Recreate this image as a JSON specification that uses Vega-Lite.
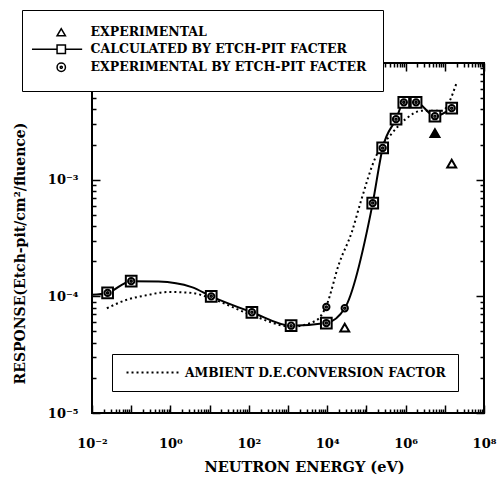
{
  "$schema": "https://vega.github.io/schema/vega-lite/v6.json",
  "width": 392,
  "height": 350,
  "autosize": {"type": "none"},
  "padding": {"left": 92, "top": 63, "right": 16, "bottom": 64},
  "background": "white",
  "config": {
    "font": "DejaVu Serif",
    "view": {"stroke": "black", "strokeWidth": 2},
    "axis": {"grid": false, "domain": false, "labelFont": "DejaVu Serif", "labelFontWeight": "bold", "labelColor": "black", "labelFontSize": 13, "titleFont": "DejaVu Serif", "titleFontWeight": "bold", "titleColor": "black", "tickColor": "black", "tickWidth": 1.5, "labelOverlap": false, "labelFlush": false}
  },
  "datasets": {
    "calc": [
      {"E": 0.01, "R": 0.000103},
      {"E": 0.025, "R": 0.000107},
      {"E": 0.1, "R": 0.000135},
      {"E": 0.5, "R": 0.000134},
      {"E": 3.5, "R": 0.00012},
      {"E": 11, "R": 0.0001},
      {"E": 120, "R": 0.000073},
      {"E": 1200, "R": 0.000056},
      {"E": 9500, "R": 0.000059},
      {"E": 28000, "R": 0.000079},
      {"E": 145000, "R": 0.00063},
      {"E": 260000, "R": 0.00187},
      {"E": 570000, "R": 0.0033},
      {"E": 900000, "R": 0.0046},
      {"E": 1850000, "R": 0.0046},
      {"E": 5600000, "R": 0.0035},
      {"E": 15000000, "R": 0.0041}
    ],
    "ambient": [
      {"E": 0.024, "R": 0.000079, "series": "AMBIENT D.E.CONVERSION FACTOR"},
      {"E": 0.074, "R": 0.000093, "series": "AMBIENT D.E.CONVERSION FACTOR"},
      {"E": 0.24, "R": 0.000102, "series": "AMBIENT D.E.CONVERSION FACTOR"},
      {"E": 0.9, "R": 0.000109, "series": "AMBIENT D.E.CONVERSION FACTOR"},
      {"E": 3.5, "R": 0.000107, "series": "AMBIENT D.E.CONVERSION FACTOR"},
      {"E": 11, "R": 0.000096, "series": "AMBIENT D.E.CONVERSION FACTOR"},
      {"E": 120, "R": 0.000069, "series": "AMBIENT D.E.CONVERSION FACTOR"},
      {"E": 1260, "R": 0.000055, "series": "AMBIENT D.E.CONVERSION FACTOR"},
      {"E": 5200, "R": 0.000062, "series": "AMBIENT D.E.CONVERSION FACTOR"},
      {"E": 9500, "R": 0.000083, "series": "AMBIENT D.E.CONVERSION FACTOR"},
      {"E": 20000, "R": 0.00019, "series": "AMBIENT D.E.CONVERSION FACTOR"},
      {"E": 43000, "R": 0.00036, "series": "AMBIENT D.E.CONVERSION FACTOR"},
      {"E": 73000, "R": 0.00066, "series": "AMBIENT D.E.CONVERSION FACTOR"},
      {"E": 170000, "R": 0.00155, "series": "AMBIENT D.E.CONVERSION FACTOR"},
      {"E": 450000, "R": 0.0025, "series": "AMBIENT D.E.CONVERSION FACTOR"},
      {"E": 1000000, "R": 0.0033, "series": "AMBIENT D.E.CONVERSION FACTOR"},
      {"E": 2600000, "R": 0.0039, "series": "AMBIENT D.E.CONVERSION FACTOR"},
      {"E": 8500000, "R": 0.0039, "series": "AMBIENT D.E.CONVERSION FACTOR"},
      {"E": 19500000, "R": 0.0066, "series": "AMBIENT D.E.CONVERSION FACTOR"}
    ],
    "markers": [
      {"E": 0.025, "R": 0.000107, "series": "CALCULATED BY ETCH-PIT FACTER"},
      {"E": 0.1, "R": 0.000135, "series": "CALCULATED BY ETCH-PIT FACTER"},
      {"E": 11, "R": 0.0001, "series": "CALCULATED BY ETCH-PIT FACTER"},
      {"E": 120, "R": 0.000073, "series": "CALCULATED BY ETCH-PIT FACTER"},
      {"E": 1200, "R": 0.000056, "series": "CALCULATED BY ETCH-PIT FACTER"},
      {"E": 9500, "R": 0.000059, "series": "CALCULATED BY ETCH-PIT FACTER"},
      {"E": 145000, "R": 0.00063, "series": "CALCULATED BY ETCH-PIT FACTER"},
      {"E": 260000, "R": 0.00187, "series": "CALCULATED BY ETCH-PIT FACTER"},
      {"E": 570000, "R": 0.0033, "series": "CALCULATED BY ETCH-PIT FACTER"},
      {"E": 900000, "R": 0.0046, "series": "CALCULATED BY ETCH-PIT FACTER"},
      {"E": 1850000, "R": 0.0046, "series": "CALCULATED BY ETCH-PIT FACTER"},
      {"E": 5600000, "R": 0.0035, "series": "CALCULATED BY ETCH-PIT FACTER"},
      {"E": 15000000, "R": 0.0041, "series": "CALCULATED BY ETCH-PIT FACTER"},
      {"E": 0.025, "R": 0.000107, "series": "EXPERIMENTAL BY ETCH-PIT FACTER"},
      {"E": 0.1, "R": 0.000135, "series": "EXPERIMENTAL BY ETCH-PIT FACTER"},
      {"E": 11, "R": 0.0001, "series": "EXPERIMENTAL BY ETCH-PIT FACTER"},
      {"E": 120, "R": 0.000073, "series": "EXPERIMENTAL BY ETCH-PIT FACTER"},
      {"E": 1200, "R": 0.000056, "series": "EXPERIMENTAL BY ETCH-PIT FACTER"},
      {"E": 9500, "R": 0.000059, "series": "EXPERIMENTAL BY ETCH-PIT FACTER"},
      {"E": 9500, "R": 0.000081, "series": "EXPERIMENTAL BY ETCH-PIT FACTER"},
      {"E": 28000, "R": 0.000079, "series": "EXPERIMENTAL BY ETCH-PIT FACTER"},
      {"E": 145000, "R": 0.00063, "series": "EXPERIMENTAL BY ETCH-PIT FACTER"},
      {"E": 260000, "R": 0.00187, "series": "EXPERIMENTAL BY ETCH-PIT FACTER"},
      {"E": 570000, "R": 0.0033, "series": "EXPERIMENTAL BY ETCH-PIT FACTER"},
      {"E": 900000, "R": 0.0046, "series": "EXPERIMENTAL BY ETCH-PIT FACTER"},
      {"E": 1850000, "R": 0.0046, "series": "EXPERIMENTAL BY ETCH-PIT FACTER"},
      {"E": 5600000, "R": 0.0035, "series": "EXPERIMENTAL BY ETCH-PIT FACTER"},
      {"E": 15000000, "R": 0.0041, "series": "EXPERIMENTAL BY ETCH-PIT FACTER"},
      {"E": 28000, "R": 0.000054, "series": "EXPERIMENTAL"},
      {"E": 5600000, "R": 0.0025, "series": "EXPERIMENTAL"},
      {"E": 15000000, "R": 0.00137, "series": "EXPERIMENTAL"}
    ]
  },
  "resolve": {"axis": {"x": "independent", "y": "independent"}},
  "layer": [
    {
      "data": {"name": "ambient"},
      "mark": {"type": "line", "interpolate": "monotone", "color": "black", "strokeWidth": 2, "clip": true},
      "encoding": {
        "x": {"field": "E", "type": "quantitative", "scale": {"type": "log", "domain": [0.01, 100000000]},
          "axis": {"orient": "bottom", "title": "NEUTRON ENERGY (eV)", "titleFontSize": 14.5, "titleX": 212, "titlePadding": 6, "labelPadding": 32,
            "values": [0.01,0.02,0.03,0.04,0.05,0.06,0.07,0.08,0.09,0.1,0.2,0.3,0.4,0.5,0.6,0.7,0.8,0.9,1,2,3,4,5,6,7,8,9,10,20,30,40,50,60,70,80,90,100,200,300,400,500,600,700,800,900,1000,2000,3000,4000,5000,6000,7000,8000,9000,10000,20000,30000,40000,50000,60000,70000,80000,90000,100000,200000,300000,400000,500000,600000,700000,800000,900000,1000000,2000000,3000000,4000000,5000000,6000000,7000000,8000000,9000000,10000000,20000000,30000000,40000000,50000000,60000000,70000000,80000000,90000000,100000000],
            "labelExpr": "abs(log(datum.value)/LN10 - round(log(datum.value)/LN10)) < 0.001 && round(log(datum.value)/LN10) % 2 == 0 ? ['10⁻²','10⁻¹','10⁰','10¹','10²','10³','10⁴','10⁵','10⁶','10⁷','10⁸'][round(log(datum.value)/LN10)+2] : ''",
            "tickSize": {"condition": {"test": "abs(log(datum.value)/LN10 - round(log(datum.value)/LN10)) < 0.001", "value": -8}, "value": -4}}},
        "y": {"field": "R", "type": "quantitative", "scale": {"type": "log", "domain": [0.00001, 0.01]},
          "axis": {"orient": "left", "title": "RESPONSE(Etch-pit/cm²/fluence)", "titleFontSize": 14, "titleY": 190, "titlePadding": 20, "labelPadding": 22,
            "values": [0.00001,0.00002,0.00003,0.00004,0.00005,0.00006,0.00007,0.00008,0.00009,0.0001,0.0002,0.0003,0.0004,0.0005,0.0006,0.0007,0.0008,0.0009,0.001,0.002,0.003,0.004,0.005,0.006,0.007,0.008,0.009,0.01],
            "labelExpr": "abs(log(datum.value)/LN10 - round(log(datum.value)/LN10)) < 0.001 && round(log(datum.value)/LN10) < -2 ? ['10⁻⁵','10⁻⁴','10⁻³','10⁻²'][round(log(datum.value)/LN10)+5] : ''",
            "tickSize": {"condition": {"test": "abs(log(datum.value)/LN10 - round(log(datum.value)/LN10)) < 0.001", "value": -8}, "value": -4}}},
        "strokeDash": {"field": "series", "type": "nominal", "scale": {"range": [[2, 3]]},
          "legend": {"orient": "none", "legendX": 20, "legendY": 291, "title": null, "symbolType": "M-5,0H5", "symbolSize": 108, "symbolStrokeWidth": 2, "symbolStrokeColor": "black", "symbolOffset": 22, "labelFont": "DejaVu Serif", "labelFontWeight": "bold", "labelFontSize": 12.3, "labelColor": "black", "labelLimit": 400, "labelOffset": 26, "padding": 12, "fillColor": "white", "strokeColor": "black",
            "encode": {"legend": {"strokeWidth": {"value": 2}}}}}
      }
    },
    {
      "data": {"name": "calc"},
      "mark": {"type": "line", "interpolate": "monotone", "color": "black", "strokeWidth": 2, "clip": true},
      "encoding": {
        "x": {"field": "E", "type": "quantitative", "scale": {"type": "log", "domain": [0.01, 100000000]}, "axis": null},
        "y": {"field": "R", "type": "quantitative", "scale": {"type": "log", "domain": [0.00001, 0.01]}, "axis": null}
      }
    },
    {
      "data": {"name": "markers"},
      "transform": [{"filter": "datum.series === 'CALCULATED BY ETCH-PIT FACTER'"}],
      "mark": {"type": "point", "shape": "square", "filled": false, "fill": "white", "stroke": "black", "strokeWidth": 2, "opacity": 1, "size": 115},
      "encoding": {
        "x": {"field": "E", "type": "quantitative", "scale": {"type": "log", "domain": [0.01, 100000000]}, "axis": null},
        "y": {"field": "R", "type": "quantitative", "scale": {"type": "log", "domain": [0.00001, 0.01]}, "axis": null}
      }
    },
    {
      "data": {"name": "markers"},
      "transform": [{"filter": "datum.series === 'EXPERIMENTAL BY ETCH-PIT FACTER'"}],
      "mark": {"type": "point", "filled": false, "fill": "white", "stroke": "black", "strokeWidth": 2, "opacity": 1, "size": 40},
      "encoding": {
        "x": {"field": "E", "type": "quantitative", "scale": {"type": "log", "domain": [0.01, 100000000]}, "axis": null},
        "y": {"field": "R", "type": "quantitative", "scale": {"type": "log", "domain": [0.00001, 0.01]}, "axis": null},
        "shape": {"field": "series", "type": "nominal",
          "scale": {"domain": ["EXPERIMENTAL", "CALCULATED BY ETCH-PIT FACTER", "EXPERIMENTAL BY ETCH-PIT FACTER"],
            "range": ["triangle-up", "M-7,0H-1M1,0H5M-1,-1H1V1H-1Z", "M-1,0A1,1 0 1,0 1,0A1,1 0 1,0 -1,0M-0.25,0A0.25,0.25 0 1,0 0.25,0A0.25,0.25 0 1,0 -0.25,0"]},
          "legend": {"orient": "none", "legendX": -70, "legendY": -53, "title": null, "labelFont": "DejaVu Serif", "labelFontWeight": "bold", "labelFontSize": 12.5, "labelColor": "black", "labelLimit": 400, "labelOffset": 23, "symbolOffset": 17, "padding": 16, "rowPadding": 3, "symbolSize": 70, "fillColor": "white", "strokeColor": "black",
            "encode": {"legend": {"strokeWidth": {"value": 2}}}}}
      }
    },
    {
      "data": {"name": "markers"},
      "transform": [{"filter": "datum.series === 'EXPERIMENTAL'"}],
      "mark": {"type": "point", "filled": false, "fill": "white", "stroke": "black", "strokeWidth": 2, "opacity": 1, "size": 80},
      "encoding": {
        "x": {"field": "E", "type": "quantitative", "scale": {"type": "log", "domain": [0.01, 100000000]}, "axis": null},
        "y": {"field": "R", "type": "quantitative", "scale": {"type": "log", "domain": [0.00001, 0.01]}, "axis": null},
        "shape": {"field": "series", "type": "nominal",
          "scale": {"domain": ["EXPERIMENTAL", "CALCULATED BY ETCH-PIT FACTER", "EXPERIMENTAL BY ETCH-PIT FACTER"],
            "range": ["triangle-up", "M-7,0H-1M1,0H5M-1,-1H1V1H-1Z", "M-1,0A1,1 0 1,0 1,0A1,1 0 1,0 -1,0M-0.25,0A0.25,0.25 0 1,0 0.25,0A0.25,0.25 0 1,0 -0.25,0"]}}
      }
    },
    {
      "data": {"name": "markers"},
      "transform": [{"filter": "datum.series === 'EXPERIMENTAL' && datum.E > 5000000 && datum.E < 6000000"}],
      "mark": {"type": "point", "shape": "triangle-up", "filled": true, "color": "black", "size": 90, "opacity": 1},
      "encoding": {
        "x": {"field": "E", "type": "quantitative", "scale": {"type": "log", "domain": [0.01, 100000000]}, "axis": null},
        "y": {"field": "R", "type": "quantitative", "scale": {"type": "log", "domain": [0.00001, 0.01]}, "axis": null}
      }
    },
    {
      "data": {"name": "calc"},
      "mark": {"type": "point", "opacity": 0},
      "encoding": {
        "x": {"field": "E", "type": "quantitative", "scale": {"type": "log", "domain": [0.01, 100000000]},
          "axis": {"orient": "top", "title": null, "labels": false,
            "values": [0.01,0.02,0.03,0.04,0.05,0.06,0.07,0.08,0.09,0.1,0.2,0.3,0.4,0.5,0.6,0.7,0.8,0.9,1,2,3,4,5,6,7,8,9,10,20,30,40,50,60,70,80,90,100,200,300,400,500,600,700,800,900,1000,2000,3000,4000,5000,6000,7000,8000,9000,10000,20000,30000,40000,50000,60000,70000,80000,90000,100000,200000,300000,400000,500000,600000,700000,800000,900000,1000000,2000000,3000000,4000000,5000000,6000000,7000000,8000000,9000000,10000000,20000000,30000000,40000000,50000000,60000000,70000000,80000000,90000000,100000000],
            "tickSize": {"condition": {"test": "abs(log(datum.value)/LN10 - round(log(datum.value)/LN10)) < 0.001", "value": -8}, "value": -4}}},
        "y": {"field": "R", "type": "quantitative", "scale": {"type": "log", "domain": [0.00001, 0.01]},
          "axis": {"orient": "right", "title": null, "labels": false,
            "values": [0.00001,0.00002,0.00003,0.00004,0.00005,0.00006,0.00007,0.00008,0.00009,0.0001,0.0002,0.0003,0.0004,0.0005,0.0006,0.0007,0.0008,0.0009,0.001,0.002,0.003,0.004,0.005,0.006,0.007,0.008,0.009,0.01],
            "tickSize": {"condition": {"test": "abs(log(datum.value)/LN10 - round(log(datum.value)/LN10)) < 0.001", "value": -8}, "value": -4}}}
      }
    }
  ]
}
